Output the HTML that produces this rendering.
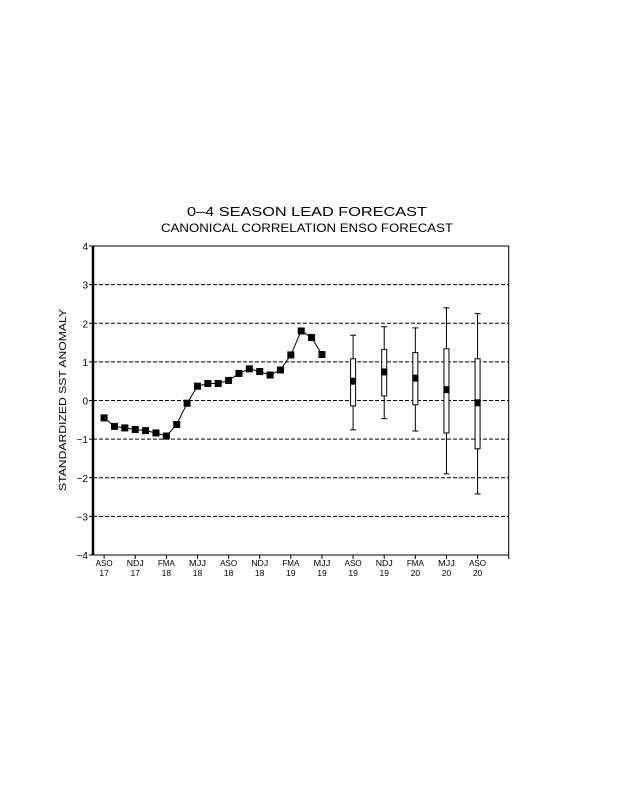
<!DOCTYPE html>
<html><head><meta charset="utf-8"><style>
html,body{margin:0;padding:0;background:#fff;}
svg{display:block;font-family:"Liberation Sans",sans-serif;}
</style></head><body>
<svg id="chart" width="618" height="800" viewBox="0 0 618 800" xmlns="http://www.w3.org/2000/svg">
<rect width="618" height="800" fill="#fff"/>
<text x="307" y="216" text-anchor="middle" font-size="13" textLength="240" lengthAdjust="spacingAndGlyphs">0–4 SEASON LEAD FORECAST</text>
<text x="307" y="232" text-anchor="middle" font-size="12" textLength="292" lengthAdjust="spacingAndGlyphs">CANONICAL CORRELATION ENSO FORECAST</text>
<text transform="translate(66,400) rotate(-90)" text-anchor="middle" font-size="10.5" textLength="182" lengthAdjust="spacingAndGlyphs">STANDARDIZED SST ANOMALY</text>
<g id="plot"></g>
</svg>
<script>
const obsValues=[-0.45,-0.67,-0.71,-0.75,-0.78,-0.84,-0.92,-0.62,-0.07,0.37,0.44,0.44,0.52,0.70,0.82,0.75,0.66,0.79,1.18,1.80,1.63,1.19];
const fcIndex=[24,27,30,33,36];
const fcMean=[0.50,0.74,0.58,0.28,-0.06];
const fcBoxHigh=[1.08,1.32,1.24,1.34,1.08];
const fcBoxLow=[-0.14,0.12,-0.11,-0.84,-1.25];
const fcWhiskHigh=[1.69,1.91,1.88,2.40,2.25];
const fcWhiskLow=[-0.76,-0.47,-0.79,-1.90,-2.42];
const yTicks=[-4,-3,-2,-1,0,1,2,3,4];
const xLabelIndex=[0,3,6,9,12,15,18,21,24,27,30,33,36];
const xLabelSeason=["ASO","NDJ","FMA","MJJ","ASO","NDJ","FMA","MJJ","ASO","NDJ","FMA","MJJ","ASO"];
const xLabelYear=["17","17","18","18","18","18","19","19","19","19","20","20","20"];

const L=93,R=508.7,T=246,B=555;
const xMin=-1.07,xMax=39,yMin=-4,yMax=4;
const sx=i=>L+(i-xMin)/(xMax-xMin)*(R-L);
const sy=v=>B-(v-yMin)/(yMax-yMin)*(B-T);
const NS="http://www.w3.org/2000/svg";
const g=document.getElementById('plot');
function mk(tag,attrs,parent){const e=document.createElementNS(NS,tag);for(const k in attrs)e.setAttribute(k,attrs[k]);(parent||g).appendChild(e);return e;}

// frame
let frame=mk('rect',{x:L,y:T,width:R-L,height:B-T,fill:'none',stroke:'#000','stroke-width':1});


let yax=mk('line',{x1:L,y1:T,x2:L,y2:B,stroke:'#000','stroke-width':2.5});



yTicks.forEach(v=>{
  const y=sy(v);
  if(v>yMin&&v<yMax){
    const gl=mk('line',{x1:L,y1:y,x2:R,y2:y,stroke:'#000','stroke-width':1,'stroke-dasharray':'4,2'});
    
    
  }
  const tk=mk('line',{x1:L-4,y1:y,x2:L,y2:y,stroke:'#000'});
  
  
  const t=mk('text',{x:L-5,y:y+4,'text-anchor':'end','font-size':10});
  t.textContent=v<0?'−'+Math.abs(v):String(v);
  
  
});

xLabelIndex.forEach((idx,k)=>{
  const x=sx(idx);
  const tk=mk('line',{x1:x,y1:B,x2:x,y2:B+4,stroke:'#000'});
  
  
  const t1=mk('text',{x:x,y:B+11,'text-anchor':'middle','font-size':8.5,textLength:17,lengthAdjust:'spacingAndGlyphs'});
  t1.textContent=xLabelSeason[k];
  
  
  const t2=mk('text',{x:x,y:B+21,'text-anchor':'middle','font-size':8.5});
  t2.textContent=xLabelYear[k];
  
  
});
let rt=mk('line',{x1:R,y1:B,x2:R,y2:B+4,stroke:'#000'});



// observed line
const pts=obsValues.map((v,i)=>sx(i)+','+sy(v)).join(' ');
let pl=mk('polyline',{points:pts,fill:'none',stroke:'#000','stroke-width':1});


obsValues.forEach((v,i)=>{
  const r=mk('rect',{x:sx(i)-3.5,y:sy(v)-3.5,width:7,height:7,fill:'#000'});
  
  
});

// forecasts
fcIndex.forEach((idx,k)=>{
  const x=sx(idx);
  const wg=mk('g',{});
  
  
  mk('line',{x1:x,y1:sy(fcWhiskHigh[k]),x2:x,y2:sy(fcWhiskLow[k]),stroke:'#000'},wg);
  mk('line',{x1:x-3,y1:sy(fcWhiskHigh[k]),x2:x+3,y2:sy(fcWhiskHigh[k]),stroke:'#000'},wg);
  mk('line',{x1:x-3,y1:sy(fcWhiskLow[k]),x2:x+3,y2:sy(fcWhiskLow[k]),stroke:'#000'},wg);
  mk('rect',{x:x-2.5,y:sy(fcBoxHigh[k]),width:5,height:sy(fcBoxLow[k])-sy(fcBoxHigh[k]),fill:'#fff',stroke:'#000'},wg);
  const m=mk('rect',{x:x-3,y:sy(fcMean[k])-3.5,width:6,height:7,fill:'#000'});
  
  
});
</script>
</body></html>
